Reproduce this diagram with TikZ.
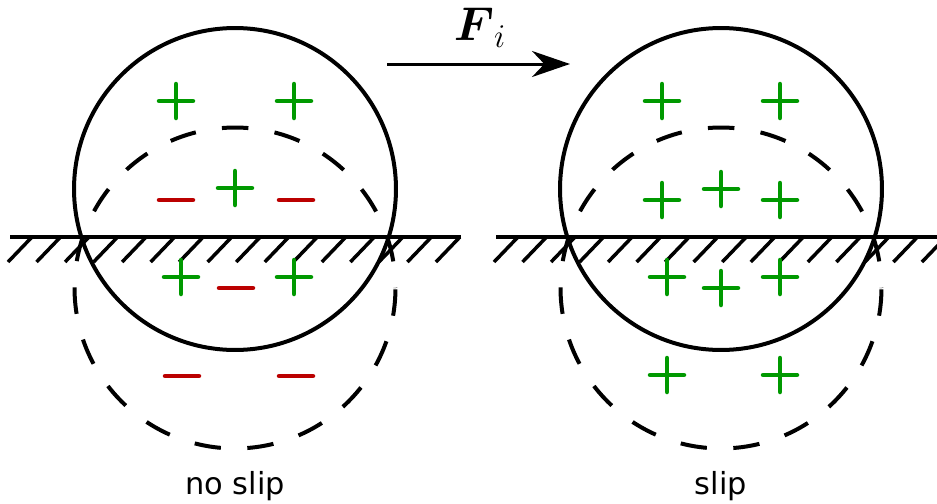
\RequirePackage{fix-cm}
\documentclass[tikz,border=0pt]{standalone}
\usepackage{amsmath,amssymb}
\usepackage{fontspec}
\setsansfont{DejaVu Sans}
\usepackage{tikz}
\usepackage{xcolor}
\usetikzlibrary{arrows.meta,positioning}
\definecolor{chgpos}{HTML}{009900}
\definecolor{chgneg}{HTML}{BB0000}
\tikzset{
  wheel/.style={circle, draw=black, line width=0.08cm, minimum size=6.44cm,
                inner sep=0pt},
  shadow/.style={circle, draw=black, line width=0.08cm, minimum size=6.42cm,
                 inner sep=0pt, dash pattern=on 0.53cm off 0.53cm,
                 dash phase=0.525cm},
  ground/.style={line width=0.08cm},
  hatch/.style={line width=0.07cm},
  sign/.style={line width=0.09cm, line cap=round},
  force/.style={-{Stealth[length=7.6mm, width=5.2mm]}, line width=0.06cm},
  caption/.style={font=\sffamily\fontsize{17.3}{20}\selectfont, anchor=base},
  plussign/.pic={\draw[sign, draw=chgpos] (-17,0) -- (17,0) (0,-17) -- (0,17);},
  minussign/.pic={\draw[sign, draw=chgneg] (-17,0) -- (17,0);},
}

\begin{document}
\begin{tikzpicture}[x=0.02cm, y=-0.02cm]
\useasboundingbox (0,0) rectangle (937,504);

% ---- ground and spheres, both panels ---------------------------------
\foreach \sx/\nm in {0/L, 486/R} {
  \draw[ground] (10+\sx,237) -- (461+\sx,237);
  \foreach \i in {0,...,15}
    \draw[hatch] ({32+28.53*\i+\sx},237) -- ++(-24,25);
  \node[wheel]  (wheel\nm)  at (235+\sx,189) {};
  \node[shadow] (shadow\nm) at (235+\sx,288) {};
}

% ---- no slip ----------------------------------------------------------
\foreach \p in {(176,101),(294,101),(235,188),(181,277),(294,277)}
  \pic at \p {plussign};
\foreach \p in {(176,200),(296,200),(236,288),(182,376),(296,376)}
  \pic at \p {minussign};
\node[caption] (capL) at (235,494) {no slip};

% ---- slip -------------------------------------------------------------
\foreach \p in {(662,101),(780,101),(662,200),(721,189),(780,200),
                (667,277),(721,288),(780,277),(667,375),(780,375)}
  \pic at \p {plussign};
\node[caption] (capR) at (721,494) {slip};

% ---- driving force ----------------------------------------------------
\coordinate (fstart) at (387,64);
\coordinate (fend)   at (570,64);
\draw[force] (fstart) -- (fend);
\node[anchor=base, font=\fontsize{27}{32}\selectfont] (flabel) at (480,40)
     {$\boldsymbol{F}_i$};
\end{tikzpicture}
\end{document}
